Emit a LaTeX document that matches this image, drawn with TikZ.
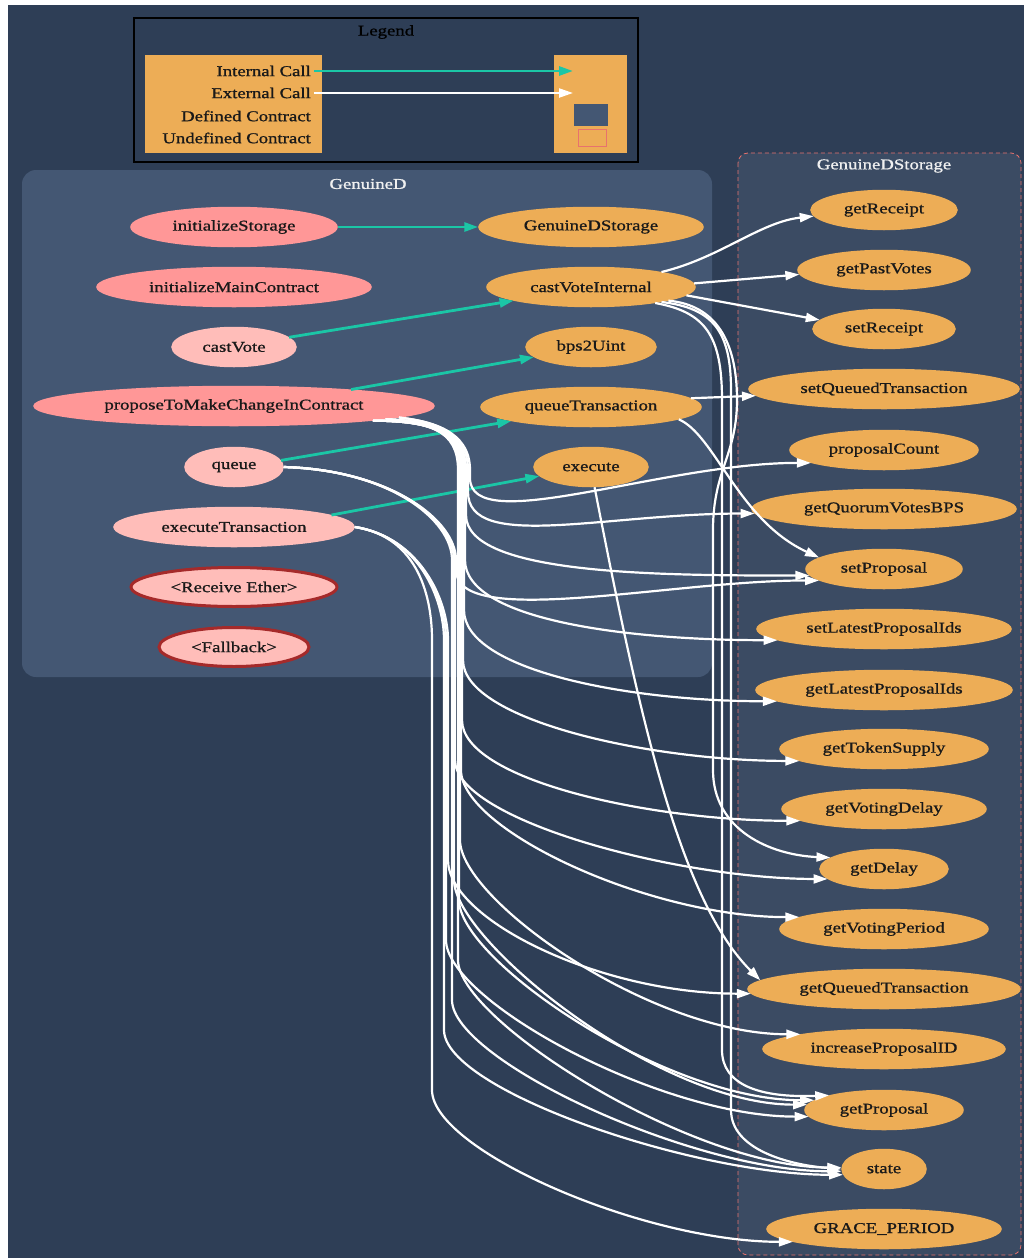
\documentclass[tikz,border=0pt]{standalone}
\usepackage{fontspec}
\setmainfont{Liberation Serif}[FakeStretch=1.25,FakeBold=1]
\usetikzlibrary{shapes.geometric,arrows.meta,calc}

\definecolor{canvas}{HTML}{2E3E56}
\definecolor{defbox}{HTML}{445773}
\definecolor{undefbox}{HTML}{3B4B63}
\definecolor{undefline}{HTML}{E8726D}
\definecolor{pubfn}{HTML}{FF9797}
\definecolor{extfn}{HTML}{FFBDB9}
\definecolor{privfn}{HTML}{EDAD56}
\definecolor{intcall}{HTML}{1BC6A6}
\definecolor{payable}{HTML}{A52A2A}
\definecolor{titletext}{HTML}{F0F0F0}

% call that runs down the shared trunk:
% #1 source anchor, #2 first control, #3 trunk x, #4 trunk top, #5 trunk bottom, #6 target anchor
\newcommand\trunkcall[6]{%
  \draw[call] (#1) .. controls (#2) and (#3,#4-40) .. (#3,#4) -- (#3,#5)
    .. controls (#3,#5+60) and ($(#6)+(-150,0)$) .. (#6);}

\begin{document}
\begin{tikzpicture}[x=1pt,y=-1pt,
  lbl/.style={font=\fontsize{15}{18}\selectfont, text=black!90, inner sep=0pt},
  fn/.style={ellipse, lbl, minimum height=39pt, line width=1.5pt},
  pub/.style={fn, fill=pubfn, draw=pubfn},
  ext/.style={fn, fill=extfn, draw=extfn},
  priv/.style={fn, fill=privfn, draw=privfn},
  payfn/.style={fn, fill=extfn, draw=payable, line width=3pt},
  title/.style={font=\fontsize{15}{18}\selectfont, text=titletext, inner sep=0pt},
  call/.style={draw=white, line width=2.2pt, -{Triangle[length=14pt,width=9pt]}},
  internal/.style={call, draw=intcall, line width=2.8pt},
]
\useasboundingbox (0,0) rectangle (1024,1258);
\fill[white] (0,0) rectangle (1024,1258);
\fill[canvas] (8,5) rectangle (1024,1258);

% ---------- legend ----------
\draw[black, line width=1.5pt, fill=canvas] (134,18) rectangle (638,162);
\node[lbl, text=black] (legendTitle) at (386,32) {Legend};
\fill[privfn] (145,55) rectangle (322,153);
\fill[privfn] (554,55) rectangle (627,153);
\node[lbl, anchor=east] (kInt) at (311,71) {Internal Call};
\node[lbl, anchor=east] (kExt) at (311,93) {External Call};
\node[lbl, anchor=east] (kDef) at (311,116) {Defined Contract};
\node[lbl, anchor=east] (kUndef) at (311,138) {Undefined Contract};
\coordinate (rInt) at (573,71);
\coordinate (rExt) at (573,93);
\fill[defbox] (574,104) rectangle (608,126);
\draw[undefline, line width=0.8pt] (578,129) rectangle (606,146);
\draw[internal, shorten <=3pt] (kInt.east) -- (rInt);
\draw[call, shorten <=3pt] (kExt.east) -- (rExt);

% ---------- contract clusters ----------
\fill[defbox, rounded corners=14pt] (22,170) rectangle (712,677);
\node[title] (mainTitle) at (368,184) {GenuineD};
\draw[undefline, dash pattern=on 4pt off 3pt, line width=0.8pt, fill=undefbox,
      rounded corners=10pt] (738,153) rectangle (1021,1255);
\node[title] (storeTitle) at (884,166) {GenuineDStorage};

% ---------- GenuineD functions ----------
\node[pub, minimum width=206pt] (initStorage) at (234,227) {initializeStorage};
\node[pub, minimum width=274pt] (initMain) at (234,287) {initializeMainContract};
\node[ext, minimum width=124pt] (castVote) at (234,347) {castVote};
\node[pub, minimum width=400pt] (propose) at (234,406) {proposeToMakeChangeInContract};
\node[ext, minimum width=98pt] (queue) at (234,467) {queue};
\node[ext, minimum width=240pt] (execTx) at (234,527) {executeTransaction};
\node[payfn, minimum width=206pt] (receive) at (234,587) {<Receive Ether>};
\node[payfn, minimum width=150pt] (fallback) at (234,647) {<Fallback>};

\node[priv, minimum width=224pt] (gdStorage) at (591,227) {GenuineDStorage};
\node[priv, minimum width=208pt] (cvi) at (591,287) {castVoteInternal};
\node[priv, minimum width=130pt] (bps) at (591,347) {bps2Uint};
\node[priv, minimum width=220pt] (queueTx) at (591,407) {queueTransaction};
\node[priv, minimum width=114pt] (execute) at (591,467) {execute};

% ---------- GenuineDStorage functions ----------
\node[priv, minimum width=146pt] (getReceipt) at (884,210) {getReceipt};
\node[priv, minimum width=172pt] (getPastVotes) at (884,270) {getPastVotes};
\node[priv, minimum width=142pt] (setReceipt) at (884,329) {setReceipt};
\node[priv, minimum width=270pt] (setQueuedTx) at (884,389) {setQueuedTransaction};
\node[priv, minimum width=188pt] (proposalCount) at (884,450) {proposalCount};
\node[priv, minimum width=264pt] (quorumBPS) at (884,509) {getQuorumVotesBPS};
\node[priv, minimum width=156pt] (setProposal) at (884,569) {setProposal};
\node[priv, minimum width=254pt] (setLatest) at (884,629) {setLatestProposalIds};
\node[priv, minimum width=256pt] (getLatest) at (884,690) {getLatestProposalIds};
\node[priv, minimum width=208pt] (tokenSupply) at (884,749) {getTokenSupply};
\node[priv, minimum width=204pt] (votingDelay) at (884,809) {getVotingDelay};
\node[priv, minimum width=128pt] (getDelay) at (884,869) {getDelay};
\node[priv, minimum width=208pt] (votingPeriod) at (884,929) {getVotingPeriod};
\node[priv, minimum width=272pt] (getQueuedTx) at (884,989) {getQueuedTransaction};
\node[priv, minimum width=242pt] (increaseID) at (884,1049) {increaseProposalID};
\node[priv, minimum width=158pt] (getProposal) at (884,1110) {getProposal};
\node[priv, minimum width=84pt] (state) at (884,1169) {state};
\node[priv, minimum width=234pt] (grace) at (884,1229) {GRACE\_PERIOD};

% ---------- internal calls ----------
\draw[internal] (initStorage.east) -- (gdStorage.west);
\draw[internal] (castVote.10) -- (cvi.190);
\draw[internal] (propose.8) -- (bps.190);
\draw[internal] (queue.8) -- (queueTx.190);
\draw[internal] (execTx.7) -- (execute.190);

% ---------- external calls from castVoteInternal ----------
\draw[call] (cvi.12) .. controls (720,258) and (760,222) .. (getReceipt.185);
\draw[call] (cvi.2) -- (getPastVotes.183);
\draw[call] (cvi.-5) -- (setReceipt.172);
\draw[call] (cvi.-10) .. controls (715,305) and (737,340) .. (737,400)
  .. controls (737,455) and (713,470) .. (713,530) -- (713,770)
  .. controls (713,830) and (770,855) .. (getDelay.168);
\draw[call] (cvi.-12) .. controls (712,308) and (731,330) .. (731,390) -- (731,1110)
  .. controls (731,1150) and (790,1165) .. (state.180);
\draw[call] (cvi.-14) .. controls (705,312) and (722,335) .. (722,400) -- (722,1050)
  .. controls (722,1085) and (760,1098) .. (getProposal.165);

% ---------- external calls from queueTransaction and execute ----------
\draw[call] (queueTx.5) -- (setQueuedTx.183);
\draw[call] (queueTx.-8) .. controls (715,435) and (738,520) .. (setProposal.170);
\draw[call] (execute.-80) .. controls (640,720) and (680,900) .. (getQueuedTx.176);

% ---------- external calls from proposeToMakeChangeInContract ----------
\trunkcall{propose.-4}{430,421}{470}{470}{478}{proposalCount.190}
\trunkcall{propose.-4}{430,421}{468}{470}{492}{quorumBPS.182}
\trunkcall{propose.-5}{430,421}{466}{470}{515}{setProposal.185}
\trunkcall{propose.-5}{430,421}{465}{470}{560}{setLatest.186}
\trunkcall{propose.-5}{430,421}{464}{470}{610}{getLatest.186}
\trunkcall{propose.-5}{430,421}{463}{470}{660}{tokenSupply.188}
\trunkcall{propose.-6}{430,421}{462}{470}{720}{votingDelay.188}
\trunkcall{propose.-6}{430,421}{461}{470}{770}{votingPeriod.172}
\trunkcall{propose.-6}{430,421}{460}{470}{840}{increaseID.170}
\trunkcall{propose.-6}{430,421}{459}{470}{900}{getProposal.172}
\trunkcall{propose.-6}{430,421}{458}{470}{960}{state.178}

% ---------- external calls from queue ----------
\trunkcall{queue.east}{390,470}{456}{560}{570}{setProposal.190}
\trunkcall{queue.east}{390,470}{455}{560}{760}{getDelay.190}
\trunkcall{queue.east}{390,470}{454}{560}{880}{getProposal.176}
\trunkcall{queue.east}{390,470}{452}{560}{1000}{state.183}

% ---------- external calls from executeTransaction ----------
\trunkcall{execTx.east}{420,537}{448}{640}{860}{getQueuedTx.182}
\trunkcall{execTx.east}{420,537}{446}{640}{940}{getProposal.185}
\trunkcall{execTx.east}{420,537}{444}{640}{1030}{state.188}
\trunkcall{execTx.east}{420,537}{432}{640}{1090}{grace.188}
\end{tikzpicture}
\end{document}
